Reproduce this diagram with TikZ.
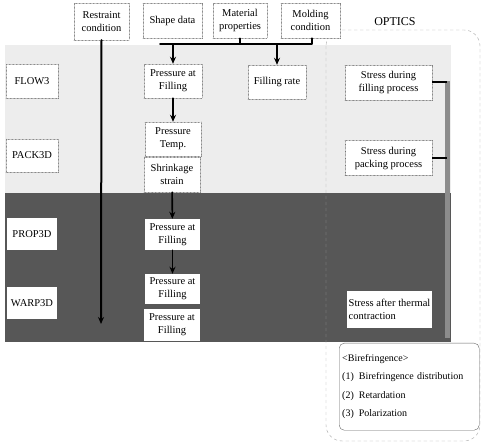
\documentclass[tikz,border=0pt]{standalone}
\usepackage{fontspec}
\setmainfont{Liberation Serif}
\usetikzlibrary{arrows.meta}
\begin{document}
\begin{tikzpicture}[x=1pt, y=-1pt, font=\fontsize{10.5}{13}\selectfont, line join=round, line cap=round, >={Stealth[length=7pt,width=6pt]},
	dotbox/.style={draw=black!55, densely dotted, fill=white, align=center, inner sep=1pt},
	whitebox/.style={fill=white, align=center, inner sep=1pt},
	flowarrow/.style={->, line width=1.6pt}]
	\useasboundingbox (0,0) rectangle (482,446);
	
	% Nền: vùng sáng (FLOW3, PACK3D) và vùng tối (PROP3D, WARP3D)
	\fill[black!7] (5,45) rectangle (451,193);
	\fill[black!66] (5,193) rectangle (451,342);
	
	% Khung OPTICS
	\draw[black!35, dashed, rounded corners=16pt] (326,30) rectangle (480,441);
	\node (optics) at (395,22) {\fontsize{12}{14}\selectfont OPTICS};
	
	% Dữ liệu vào
	\node[dotbox, minimum width=55pt, minimum height=37pt] (restraint) at (101.5,21.5) {Restraint\\condition};
	\node[dotbox, minimum width=59pt, minimum height=35pt] (shape) at (172.5,20.5) {Shape data};
	\node[dotbox, minimum width=54pt, minimum height=35pt] (material) at (240,20.5) {Material\\properties};
	\node[dotbox, minimum width=59pt, minimum height=35pt] (molding) at (310.5,20.5) {Molding\\condition};
	
	% Các mô-đun bên trái
	\node[dotbox, minimum width=52pt, minimum height=34pt] (flow) at (32,81) {FLOW3};
	\node[dotbox, minimum width=52pt, minimum height=33pt] (pack) at (32,155.5) {PACK3D};
	\node[whitebox, minimum width=50pt, minimum height=32pt] (prop) at (32,234) {PROP3D};
	\node[whitebox, minimum width=50pt, minimum height=32pt] (warp) at (32,303) {WARP3D};
	
	% Kết quả trung gian
	\node[dotbox, minimum width=58pt, minimum height=34pt] (fill1) at (173,81) {Pressure at\\Filling};
	\node[dotbox, minimum width=58pt, minimum height=34pt] (rate) at (277,82) {Filling rate};
	\node[dotbox, minimum width=56pt, minimum height=34pt] (temp) at (173,139) {Pressure\\Temp.};
	\node[dotbox, minimum width=56pt, minimum height=35pt] (shrink) at (172,174.5) {Shrinkage\\strain};
	\node[whitebox, minimum width=55pt, minimum height=31pt] (fill2) at (172.5,234.5) {Pressure at\\Filling};
	\node[whitebox, minimum width=55pt, minimum height=30pt] (fill3) at (172.5,289) {Pressure at\\Filling};
	\node[whitebox, minimum width=56pt, minimum height=32pt] (fill4) at (172,325) {Pressure at\\Filling};
	
	% Ứng suất (OPTICS)
	\node[dotbox, minimum width=87pt, minimum height=35pt] (sfill) at (388.5,82.5) {Stress during\\filling process};
	\node[dotbox, minimum width=87pt, minimum height=35pt] (spack) at (388.5,158) {Stress during\\packing process};
	\node[whitebox, minimum width=85pt, minimum height=37pt, align=left] (sthermal) at (389.5,309.5) {Stress after thermal\\contraction};
	\node[draw=black!60, rounded corners=5pt, fill=white, anchor=north west, text width=134pt, inner sep=3pt, minimum height=87pt, align=left, font=\fontsize{10}{18.5}\selectfont] (biref) at (339,343) {<Birefringence>\\(1)\enspace Birefringence distribution\\(2)\enspace Retardation\\(3)\enspace Polarization};
	
	% Đường dẫn dữ liệu vào
	\coordinate (busL) at (160,44);
	\coordinate (busR) at (312,44);
	\draw[line width=1.6pt] (busL) -- (busR) -- (busR |- molding.south);
	\draw[line width=1.2pt] (material.south) -- (material.south |- busL);
	\draw[flowarrow] (fill1.north |- busL) -- (fill1.north);
	\draw[flowarrow] (rate.north |- busL) -- (rate.north);
	
	% Điều kiện ràng buộc
	\coordinate (rEnd) at (101,324);
	\draw[line width=2pt, ->] (restraint.south) -- (rEnd);
	
	% Chuỗi kết quả
	\draw[flowarrow] (fill1) -- (temp);
	\draw[flowarrow] (shrink) -- (fill2);
	\draw[flowarrow] (fill2) -- (fill3);
	
	% Nối các ô ứng suất
	\coordinate (optTop) at (447,81);
	\coordinate (optBot) at (447,338);
	\draw[black!45, line width=5pt, line cap=butt] (optTop) -- (optBot);
	\draw[line width=2pt, line cap=butt] (sfill.east) -- (sfill.east -| optTop);
	\draw[line width=2pt, line cap=butt] (spack.east) -- (spack.east -| optTop);
\end{tikzpicture}
\end{document}
